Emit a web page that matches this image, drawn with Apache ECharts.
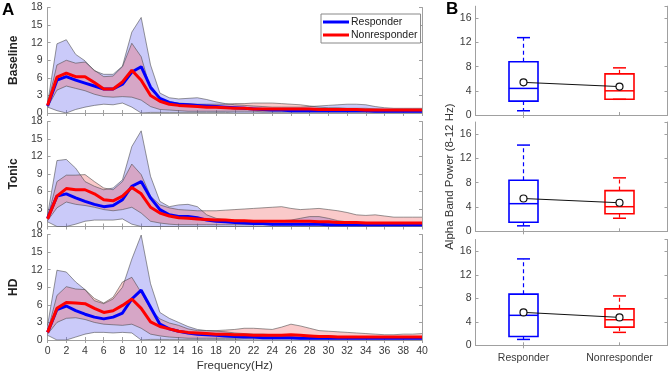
<!DOCTYPE html>
<html>
<head>
<meta charset="utf-8">
<script src="https://cdn.jsdelivr.net/npm/echarts@6/dist/echarts.min.js"></script>
<style>
  html, body { margin: 0; padding: 0; background: #fff; }
  #chart { width: 669px; height: 374px; }
</style>
</head>
<body>
<div id="chart"></div>
<script>
var freqs = ['0', '1', '2', '3', '4', '5', '6', '7', '8', '9', '10', '11', '12', '13', '14', '15', '16', '17', '18', '19', '20',
    '21', '22', '23', '24', '25', '26', '27', '28', '29', '30', '31', '32', '33', '34', '35', '36', '37', '38', '39', '40'];
var conditions = ['Baseline', 'Tonic', 'HD'];
var groups = ['Responder', 'Nonresponder'];

// Baseline
var baseRespMean = [1.2, 5.6, 6.2, 5.6, 5.1, 4.6, 4.1, 4.1, 4.9, 7.0, 7.9, 4.4, 2.5, 1.8, 1.5, 1.4, 1.3, 1.2, 1.1, 1.0, 0.9,
    0.8, 0.7, 0.6, 0.5, 0.5, 0.4, 0.4, 0.4, 0.4, 0.4, 0.4, 0.4, 0.4, 0.4, 0.3, 0.3, 0.3, 0.3, 0.3, 0.3];
var baseRespUp = [1.6, 11.8, 12.5, 10.0, 8.9, 7.2, 6.6, 6.6, 8.0, 13.8, 16.3, 8.2, 3.4, 2.6, 2.4, 2.5, 2.6, 2.3, 1.9, 1.6, 1.4,
    1.3, 1.2, 1.1, 1.0, 1.0, 1.0, 1.0, 1.1, 1.2, 1.3, 1.4, 1.5, 1.5, 1.4, 1.1, 0.9, 0.8, 0.8, 0.8, 0.8];
var baseRespLo = [1.0, 0.4, 0.0, 0.6, 1.0, 1.3, 1.5, 1.4, 1.7, 1.0, 0.0, 0.1, 0.1, 0.1, 0.1, 0.1, 0.1, 0.1, 0.1, 0.1, 0.0,
    0.0, 0.0, 0.0, 0.0, 0.0, 0.0, 0.0, 0.0, 0.0, 0.0, 0.0, 0.0, 0.0, 0.0, 0.0, 0.0, 0.0, 0.0, 0.0, 0.0];
var baseNonMean = [1.3, 6.1, 6.8, 6.2, 6.2, 5.2, 4.1, 4.1, 5.3, 7.3, 5.6, 3.0, 2.0, 1.5, 1.3, 1.2, 1.1, 1.0, 1.0, 0.9, 0.8,
    0.8, 0.7, 0.7, 0.7, 0.7, 0.7, 0.7, 0.7, 0.6, 0.6, 0.6, 0.6, 0.6, 0.5, 0.5, 0.5, 0.5, 0.5, 0.5, 0.5];
var baseNonUp = [1.5, 8.2, 9.0, 8.5, 8.7, 7.3, 6.2, 6.3, 7.9, 11.9, 9.6, 4.0, 2.4, 1.9, 1.7, 1.6, 1.5, 1.5, 1.5, 1.5, 1.6,
    1.6, 1.7, 1.7, 1.7, 1.6, 1.5, 1.4, 1.2, 1.0, 0.9, 0.9, 0.8, 0.8, 0.8, 0.7, 0.6, 0.6, 0.6, 0.6, 0.6];
var baseNonLo = [1.0, 3.9, 4.6, 4.2, 3.8, 3.2, 2.8, 2.7, 2.8, 2.7, 2.2, 1.1, 0.6, 0.5, 0.4, 0.3, 0.3, 0.3, 0.3, 0.3, 0.3,
    0.3, 0.3, 0.2, 0.2, 0.2, 0.2, 0.2, 0.2, 0.2, 0.2, 0.2, 0.2, 0.2, 0.2, 0.2, 0.2, 0.2, 0.2, 0.2, 0.2];

// Tonic
var tonicRespMean = [1.4, 5.2, 5.6, 4.9, 4.3, 3.8, 3.4, 3.6, 4.6, 6.9, 7.7, 4.9, 2.9, 2.0, 1.7, 1.7, 1.5, 1.1, 0.9, 0.8, 0.7,
    0.6, 0.5, 0.5, 0.4, 0.4, 0.4, 0.4, 0.4, 0.4, 0.3, 0.3, 0.3, 0.3, 0.3, 0.3, 0.3, 0.3, 0.3, 0.3, 0.3];
var tonicRespUp = [2.0, 11.3, 11.5, 10.0, 7.7, 6.9, 6.3, 6.6, 8.0, 13.7, 16.4, 8.6, 4.3, 3.4, 3.7, 3.8, 3.4, 2.0, 1.4, 1.2, 1.1,
    1.0, 1.0, 1.0, 1.0, 1.0, 1.1, 1.4, 1.7, 1.7, 1.4, 1.0, 0.8, 0.7, 0.7, 0.6, 0.6, 0.6, 0.6, 0.6, 0.6];
var tonicRespLo = [0.8, 0.0, 0.0, 0.4, 0.9, 1.1, 1.1, 1.1, 1.3, 0.4, 0.0, 0.0, 0.0, 0.0, 0.0, 0.0, 0.0, 0.0, 0.0, 0.0, 0.0,
    0.0, 0.0, 0.0, 0.0, 0.0, 0.0, 0.0, 0.0, 0.0, 0.0, 0.0, 0.0, 0.0, 0.0, 0.0, 0.0, 0.0, 0.0, 0.0, 0.0];
var tonicNonMean = [1.3, 5.2, 6.5, 6.3, 6.3, 5.6, 4.6, 4.4, 5.2, 6.7, 5.6, 3.3, 2.3, 1.8, 1.5, 1.4, 1.3, 1.2, 1.1, 1.1, 1.0,
    1.0, 0.9, 0.9, 0.9, 0.9, 0.9, 0.9, 0.9, 0.8, 0.8, 0.7, 0.7, 0.7, 0.6, 0.6, 0.6, 0.6, 0.6, 0.6, 0.6];
var tonicNonUp = [1.5, 7.7, 8.8, 8.8, 8.9, 7.7, 6.6, 6.3, 7.7, 10.7, 8.9, 5.2, 3.7, 3.2, 2.9, 2.8, 2.7, 2.7, 2.7, 2.8, 2.9,
    3.0, 3.1, 3.2, 3.3, 3.4, 3.1, 2.9, 3.0, 3.1, 2.9, 2.7, 2.4, 2.0, 1.9, 2.0, 1.8, 1.6, 1.6, 1.6, 1.6];
var tonicNonLo = [1.0, 3.2, 4.2, 3.8, 3.6, 3.3, 2.9, 2.7, 2.9, 3.3, 2.3, 0.9, 0.6, 0.4, 0.3, 0.3, 0.3, 0.3, 0.3, 0.3, 0.3,
    0.3, 0.3, 0.3, 0.3, 0.3, 0.3, 0.3, 0.3, 0.3, 0.3, 0.3, 0.3, 0.3, 0.3, 0.3, 0.3, 0.3, 0.3, 0.3, 0.3];

// HD
var hdRespMean = [1.3, 5.2, 5.8, 5.0, 4.4, 3.9, 3.6, 3.9, 4.6, 7.0, 8.5, 5.6, 2.7, 1.9, 1.5, 1.2, 1.0, 0.9, 0.8, 0.7, 0.6,
    0.5, 0.5, 0.4, 0.4, 0.4, 0.4, 0.3, 0.3, 0.3, 0.3, 0.3, 0.3, 0.3, 0.3, 0.3, 0.3, 0.3, 0.3, 0.3, 0.3];
var hdRespUp = [2.5, 11.9, 11.6, 9.9, 8.6, 6.7, 6.2, 7.0, 9.0, 13.8, 17.9, 9.6, 4.7, 3.7, 3.0, 2.3, 1.8, 1.6, 1.5, 1.4, 1.2,
    1.1, 1.0, 1.0, 0.9, 0.9, 0.9, 0.8, 0.8, 0.7, 0.7, 0.6, 0.6, 0.6, 0.5, 0.5, 0.5, 0.5, 0.5, 0.5, 0.5];
var hdRespLo = [0.8, 0.0, 0.0, 0.5, 1.0, 1.3, 1.3, 1.2, 1.3, 1.2, 0.0, 0.1, 0.1, 0.1, 0.1, 0.1, 0.1, 0.1, 0.1, 0.1, 0.1,
    0.0, 0.0, 0.0, 0.0, 0.0, 0.0, 0.0, 0.0, 0.0, 0.0, 0.0, 0.0, 0.0, 0.0, 0.0, 0.0, 0.0, 0.0, 0.0, 0.0];
var hdNonMean = [1.3, 5.4, 6.4, 6.3, 6.2, 5.4, 4.7, 5.0, 5.9, 7.0, 5.4, 3.1, 2.3, 1.9, 1.5, 1.3, 1.2, 1.1, 1.0, 1.0, 0.9,
    0.9, 0.8, 0.8, 0.8, 0.8, 0.9, 0.8, 0.7, 0.6, 0.6, 0.5, 0.5, 0.5, 0.5, 0.5, 0.5, 0.5, 0.5, 0.5, 0.5];
var hdNonUp = [1.5, 7.6, 9.1, 8.7, 8.6, 7.1, 6.3, 7.3, 9.9, 10.7, 8.1, 5.3, 3.6, 2.9, 2.5, 1.9, 1.6, 1.6, 1.6, 1.7, 1.8,
    2.0, 2.0, 1.9, 1.8, 2.2, 2.7, 2.4, 2.0, 1.6, 1.5, 1.4, 1.3, 1.2, 1.1, 1.0, 0.9, 0.9, 1.0, 1.0, 1.1];
var hdNonLo = [1.0, 3.0, 3.7, 3.8, 3.5, 3.0, 2.7, 2.6, 2.5, 2.7, 2.0, 1.0, 0.7, 0.5, 0.4, 0.3, 0.3, 0.3, 0.3, 0.3, 0.3,
    0.3, 0.3, 0.3, 0.3, 0.3, 0.3, 0.3, 0.3, 0.3, 0.3, 0.3, 0.3, 0.3, 0.3, 0.3, 0.3, 0.3, 0.3, 0.3, 0.3];

// alpha band boxes: [low whisker, q1, median, q3, high whisker], one row per condition
var respBox = [[0.7, 2.3, 4.4, 8.8, 12.8], [0.9, 1.5, 4.55, 8.4, 14.2], [1.0, 1.5, 5.1, 8.7, 14.7]];
var nonBox = [[2.6, 2.6, 4.0, 6.8, 7.8], [2.15, 2.9, 4.05, 6.7, 8.8], [2.2, 3.1, 4.35, 6.2, 8.4]];
var respAlphaMean = [5.4, 5.4, 5.6];
var nonAlphaMean = [4.7, 4.7, 4.75];

var panels = [
    {resp: baseRespMean, respUp: baseRespUp, respLo: baseRespLo, non: baseNonMean, nonUp: baseNonUp, nonLo: baseNonLo},
    {resp: tonicRespMean, respUp: tonicRespUp, respLo: tonicRespLo, non: tonicNonMean, nonUp: tonicNonUp, nonLo: tonicNonLo},
    {resp: hdRespMean, respUp: hdRespUp, respLo: hdRespLo, non: hdNonMean, nonUp: hdNonUp, nonLo: hdNonLo}
];

var FONT = '"Liberation Sans", Arial, sans-serif';
var AXIS = '#a0a0a0';
var LABEL = '#3a3a3a';
var BLUE = '#0000ff';
var RED = '#ff0000';
var BLUE_FILL = 'rgba(90,90,235,0.32)';
var RED_FILL = 'rgba(240,90,90,0.32)';
var EDGE = 'rgba(70,70,70,0.8)';

var leftGrids = [
    {left: 39, width: 383, top: 7.5, height: 105.5},
    {left: 39, width: 383, top: 121.5, height: 105},
    {left: 39, width: 383, top: 234.5, height: 105.5}
];
var rightGrids = [
    {left: 475.5, width: 192, top: 6.2, height: 108.8},
    {left: 475.5, width: 192, top: 122, height: 109.3},
    {left: 475.5, width: 192, top: 239.5, height: 105.8}
];

function spread(up, lo) {
    return up.map(function (u, i) { return Math.round((u - lo[i]) * 100) / 100; });
}

var grid = [], xAxis = [], yAxis = [], series = [];

leftGrids.forEach(function (g, i) {
    grid.push(g);
    var last = i === 2;
    var baseX = {
        type: 'category', gridIndex: i, data: freqs, boundaryGap: false,
        axisLine: {show: true, lineStyle: {color: AXIS, width: 1}},
        axisTick: {show: true, inside: true, length: 3, interval: 1, lineStyle: {color: AXIS}},
        splitLine: {show: false}
    };
    xAxis.push(Object.assign({}, baseX, {
        position: 'bottom',
        axisLabel: {show: last, interval: 1, color: LABEL, fontSize: 10.5, fontFamily: FONT, margin: 6},
        name: last ? 'Frequency(Hz)' : '',
        nameLocation: 'middle', nameGap: 20,
        nameTextStyle: {color: '#333', fontSize: 11.5, fontFamily: FONT}
    }));
    xAxis.push(Object.assign({}, baseX, {position: 'top', axisLabel: {show: false}}));
    var baseY = {
        type: 'value', gridIndex: i, min: 0, max: 18, interval: 3,
        axisLine: {show: true, lineStyle: {color: AXIS, width: 1}},
        axisTick: {show: true, inside: true, length: 3, lineStyle: {color: AXIS}},
        splitLine: {show: false}
    };
    yAxis.push(Object.assign({}, baseY, {
        position: 'left',
        axisLabel: {color: LABEL, fontSize: 10.5, fontFamily: FONT, margin: 5},
        name: conditions[i], nameLocation: 'middle', nameGap: 20,
        nameTextStyle: {color: '#222', fontSize: 12, fontWeight: 'bold', fontFamily: FONT}
    }));
    yAxis.push(Object.assign({}, baseY, {position: 'right', axisLabel: {show: false}}));

    var p = panels[i];
    var xi = 2 * i, yi = 2 * i;
    function band(name, up, lo, fill) {
        series.push({
            type: 'line', name: name + ' lo', xAxisIndex: xi, yAxisIndex: yi, stack: name + i,
            data: lo, symbol: 'none', silent: true,
            lineStyle: {color: EDGE, width: 0.7}
        });
        series.push({
            type: 'line', name: name + ' band', xAxisIndex: xi, yAxisIndex: yi, stack: name + i,
            data: spread(up, lo), symbol: 'none', silent: true,
            lineStyle: {color: EDGE, width: 0.7},
            areaStyle: {color: fill, opacity: 1}
        });
    }
    band('resp', p.respUp, p.respLo, BLUE_FILL);
    band('non', p.nonUp, p.nonLo, RED_FILL);
    series.push({
        type: 'line', name: 'Responder', xAxisIndex: xi, yAxisIndex: yi, data: p.resp,
        symbol: 'none', color: BLUE, lineStyle: {color: BLUE, width: 3}, z: 5
    });
    series.push({
        type: 'line', name: 'Nonresponder', xAxisIndex: xi, yAxisIndex: yi, data: p.non,
        symbol: 'none', color: RED, lineStyle: {color: RED, width: 3}, z: 6
    });
});

function renderBox(params, api) {
    var x = api.value(0);
    var lo = api.coord([x, api.value(1)]);
    var q1 = api.coord([x, api.value(2)]);
    var med = api.coord([x, api.value(3)]);
    var q3 = api.coord([x, api.value(4)]);
    var hi = api.coord([x, api.value(5)]);
    var cx = lo[0], bw = 29, cw = 13;
    var c = api.visual('color');
    var solid = {stroke: c, lineWidth: 1.5, fill: null};
    var dash = {stroke: c, lineWidth: 1.2, lineDash: [4, 3]};
    return {
        type: 'group',
        children: [
            {type: 'line', shape: {x1: cx, y1: q3[1], x2: cx, y2: hi[1]}, style: dash},
            {type: 'line', shape: {x1: cx, y1: q1[1], x2: cx, y2: lo[1]}, style: dash},
            {type: 'line', shape: {x1: cx - cw / 2, y1: hi[1], x2: cx + cw / 2, y2: hi[1]}, style: solid},
            {type: 'line', shape: {x1: cx - cw / 2, y1: lo[1], x2: cx + cw / 2, y2: lo[1]}, style: solid},
            {type: 'rect', shape: {x: cx - bw / 2, y: q3[1], width: bw, height: q1[1] - q3[1]},
                style: {stroke: c, lineWidth: 1.6, fill: 'rgba(0,0,0,0)'}},
            {type: 'line', shape: {x1: cx - bw / 2, y1: med[1], x2: cx + bw / 2, y2: med[1]}, style: solid}
        ]
    };
}

rightGrids.forEach(function (g, k) {
    var i = k + 3;
    grid.push(g);
    var last = k === 2;
    var baseX = {
        type: 'category', gridIndex: i, data: groups, boundaryGap: true,
        axisLine: {show: true, lineStyle: {color: AXIS, width: 1}},
        axisTick: {show: true, inside: true, length: 3, alignWithLabel: true, lineStyle: {color: AXIS}},
        splitLine: {show: false}
    };
    xAxis.push(Object.assign({}, baseX, {
        position: 'bottom',
        axisLabel: {show: last, color: LABEL, fontSize: 10.5, fontFamily: FONT, margin: 7}
    }));
    xAxis.push(Object.assign({}, baseX, {position: 'top', axisLabel: {show: false}}));
    var baseY = {
        type: 'value', gridIndex: i, min: 0, max: 18, interval: 4,
        axisLine: {show: true, lineStyle: {color: AXIS, width: 1}},
        axisTick: {show: true, inside: true, length: 3, lineStyle: {color: AXIS}},
        splitLine: {show: false}
    };
    yAxis.push(Object.assign({}, baseY, {
        position: 'left',
        axisLabel: {
            color: LABEL, fontSize: 10.5, fontFamily: FONT, margin: 4, showMaxLabel: false,
            formatter: function (v) { return v % 4 === 0 ? String(v) : ''; }
        },
        name: k === 1 ? 'Alpha Band Power (8-12 Hz)' : '',
        nameLocation: 'middle', nameGap: 20,
        nameTextStyle: {color: '#333', fontSize: 11.5, fontFamily: FONT}
    }));
    yAxis.push(Object.assign({}, baseY, {position: 'right', axisLabel: {show: false}}));

    var xi = 2 * i, yi = 2 * i;
    series.push({
        type: 'custom', xAxisIndex: xi, yAxisIndex: yi, color: BLUE, renderItem: renderBox,
        encode: {x: 0, y: [1, 2, 3, 4, 5]},
        data: [[0].concat(respBox[k])]
    });
    series.push({
        type: 'custom', xAxisIndex: xi, yAxisIndex: yi, color: RED, renderItem: renderBox,
        encode: {x: 0, y: [1, 2, 3, 4, 5]},
        data: [[1].concat(nonBox[k])]
    });
    series.push({
        type: 'line', xAxisIndex: xi, yAxisIndex: yi, data: [respAlphaMean[k], nonAlphaMean[k]],
        symbol: 'circle', symbolSize: 7, z: 5,
        lineStyle: {color: '#111', width: 1},
        itemStyle: {color: '#fff', borderColor: '#111', borderWidth: 1.2}
    });
});

var chart = echarts.init(document.getElementById('chart'));
chart.setOption({
    animation: false,
    backgroundColor: '#fff',
    textStyle: {fontFamily: FONT},
    grid: grid,
    xAxis: xAxis,
    yAxis: yAxis,
    legend: {
        data: ['Responder', 'Nonresponder'],
        orient: 'vertical',
        left: 321, top: 14,
        padding: [2, 3, 2, 2],
        itemGap: 1,
        itemWidth: 26, itemHeight: 3,
        icon: 'rect',
        backgroundColor: '#fff',
        borderColor: '#888', borderWidth: 1,
        textStyle: {color: '#222', fontSize: 10.5, fontFamily: FONT, padding: [0, 0, 0, -3], lineHeight: 12}
    },
    graphic: [
        {type: 'text', left: 2, top: 2, style: {text: 'A', fontSize: 17, fontWeight: 'bold', fill: '#000', fontFamily: FONT}},
        {type: 'text', left: 446, top: 1, style: {text: 'B', fontSize: 17, fontWeight: 'bold', fill: '#000', fontFamily: FONT}}
    ],
    series: series
});
</script>
</body>
</html>
